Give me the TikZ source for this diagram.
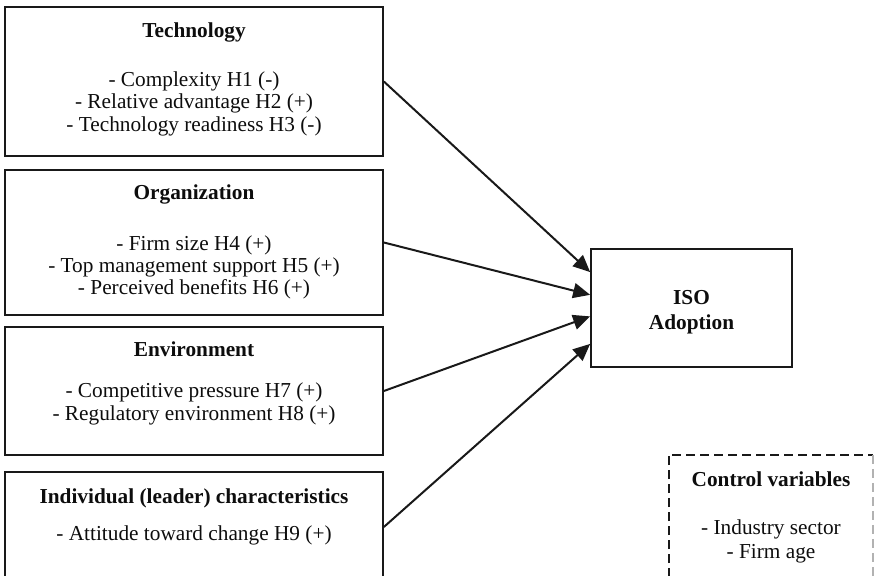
\documentclass[tikz,border=0pt]{standalone}
\usepackage{fontspec}
\setmainfont{Liberation Serif}
\usetikzlibrary{arrows.meta,calc}
\begin{document}
\begin{tikzpicture}[x=1pt,y=-1pt,
  box/.style={draw=black!90, line width=1.7pt, inner sep=0pt, rectangle},
  txt/.style={anchor=base, inner sep=0pt, text=black!95, font=\fontsize{21.3}{22}\selectfont},
  ttl/.style={anchor=base, inner sep=0pt, text=black!95, font=\fontsize{21.3}{22}\selectfont\bfseries},
  arr/.style={draw=black!90, line width=2pt, -{Triangle[length=17pt,width=15pt]}},
  ctrlline/.style={draw=black!90, line width=1.7pt, dash pattern=on 9pt off 5pt}]
\useasboundingbox (0,0) rectangle (874,575);
\clip (0,0) rectangle (874,575);
% boxes
\node[box, minimum width=378pt, minimum height=149pt] (tech) at (194,81.5) {};
\node[box, minimum width=378pt, minimum height=145pt] (org) at (194,242.5) {};
\node[box, minimum width=378pt, minimum height=128pt] (env) at (194,391) {};
\node[box, minimum width=378pt, minimum height=110pt] (ind) at (194,527) {};
\node[box, minimum width=201pt, minimum height=118pt] (iso) at (691.5,308) {};
\node[inner sep=0pt, minimum width=204pt, minimum height=150pt] (ctrl) at (771,530) {};
\draw[ctrlline] (ctrl.south west) -- (ctrl.north west) -- (ctrl.north east);
\draw[ctrlline, draw=black!30] (ctrl.north east) -- (ctrl.south east);
% Technology
\node[ttl] (techT) at (194,38) {Technology};
\node[txt] (tech1) at (194,87) {- Complexity H1 (-)};
\node[txt] (tech2) at (194,109) {- Relative advantage H2 (+)};
\node[txt] (tech3) at (194,131) {- Technology readiness H3 (-)};
% Organization
\node[ttl] (orgT) at (194,199) {Organization};
\node[txt] (org1) at (194,250) {- Firm size H4 (+)};
\node[txt] (org2) at (194,272) {- Top management support H5 (+)};
\node[txt] (org3) at (194,294) {- Perceived benefits H6 (+)};
% Environment
\node[ttl] (envT) at (194,356) {Environment};
\node[txt] (env1) at (194,397) {- Competitive pressure H7 (+)};
\node[txt] (env2) at (194,420) {- Regulatory environment H8 (+)};
% Individual
\node[ttl] (indT) at (194,503) {Individual (leader) characteristics};
\node[txt] (ind1) at (194,540) {- Attitude toward change H9 (+)};
% ISO
\node[ttl] (isoT1) at (691.5,304) {ISO};
\node[ttl] (isoT2) at (691.5,329) {Adoption};
% Control
\node[ttl] (ctrlT) at (771,486) {Control variables};
\node[txt] (ctrl1) at (771,534) {- Industry sector};
\node[txt] (ctrl2) at (771,558) {- Firm age};
% arrows
\draw[arr] (tech.east) -- ($(iso.north west)!0.2!(iso.south west)$);
\draw[arr] (org.east) -- ($(iso.north west)!0.39!(iso.south west)$);
\draw[arr] (env.east) -- ($(iso.north west)!0.57!(iso.south west)$);
\draw[arr] (ind.east) -- ($(iso.north west)!0.8!(iso.south west)$);
\end{tikzpicture}
\end{document}
